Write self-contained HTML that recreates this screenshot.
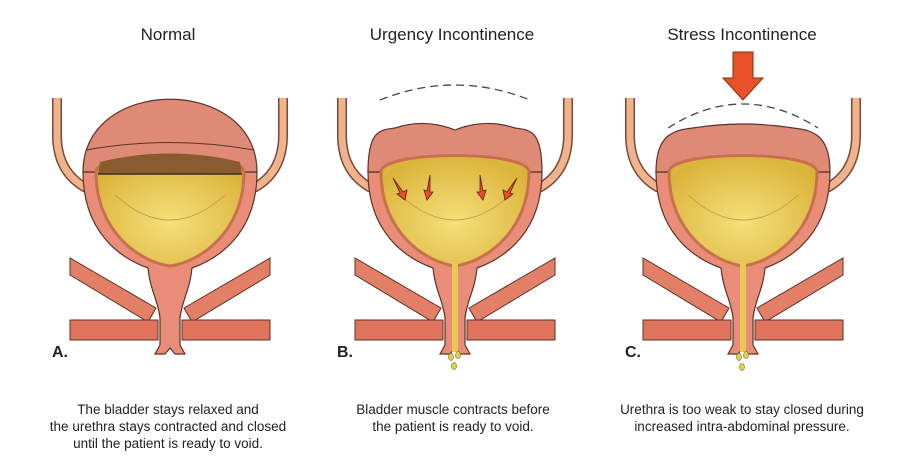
<!DOCTYPE html>
<html><head><style>
body{margin:0;background:#fff;width:905px;height:466px;overflow:hidden}
svg{display:block}
text{font-family:"Liberation Sans",sans-serif;fill:#222}
</style></head><body>
<svg width="905" height="466" viewBox="0 0 905 466">
<defs>
<radialGradient id="y" cx="50%" cy="60%" r="60%"><stop offset="0" stop-color="#f4e07a"/><stop offset="1" stop-color="#dcb43c"/></radialGradient>
<g id="base">
  <path d="M-113,98 L-113,135 Q-113,172 -84,188" fill="none" stroke="#7a4a35" stroke-width="10"/>
  <path d="M-113,98 L-113,135 Q-113,172 -84,188" fill="none" stroke="#efb48e" stroke-width="7"/>
  <path d="M113,98 L113,135 Q113,172 84,188" fill="none" stroke="#7a4a35" stroke-width="10"/>
  <path d="M113,98 L113,135 Q113,172 84,188" fill="none" stroke="#efb48e" stroke-width="7"/>
  <polygon points="-100,258 -100,275 -22,322 -14,308" fill="#e27f66" stroke="#5a3328" stroke-width="1"/>
  <polygon points="100,258 100,275 22,322 14,308" fill="#e27f66" stroke="#5a3328" stroke-width="1"/>
  <rect x="-100" y="320" width="88" height="20" fill="#e0735c" stroke="#5a3328" stroke-width="1"/>
  <rect x="12" y="320" width="88" height="20" fill="#e0735c" stroke="#5a3328" stroke-width="1"/>
  <path d="M-87,172 C-87,232 -50,258 -22,268 C-20,290 -12,300 -10,318 L-10,345 L-15,354 L-5,354 L0,348 L5,354 L15,354 L10,345 L10,318 C12,300 20,290 22,268 C50,258 87,232 87,172 Z" fill="#e98d78" stroke="#5a3328" stroke-width="1.2"/>
</g>
<path id="inner" d="M-74,172 C-74,150 74,150 74,172 C74,232 30,262 0,266 C-30,262 -74,232 -74,172Z"/>
</defs>

<text x="168" y="40" font-size="17" text-anchor="middle">Normal</text>
<text x="452" y="40" font-size="17" text-anchor="middle">Urgency Incontinence</text>
<text x="742" y="40" font-size="17" text-anchor="middle">Stress Incontinence</text>

<!-- A -->
<g transform="translate(170,0)">
  <use href="#base"/>
  <path d="M-87,172 C-87,75 87,75 87,172 Z" fill="#de8a76" stroke="#5a3328" stroke-width="1.2"/>
  <path d="M-84,150 Q0,135 84,150" fill="none" stroke="#5a3328" stroke-width="1"/>
  <use href="#inner" fill="url(#y)" stroke="#c8704e" stroke-width="3"/>
  <path d="M-70,162 Q0,145 70,162 L72,174 L-72,174Z" fill="#8a5a30"/>
  <line x1="-72" y1="174" x2="72" y2="174" stroke="#3a3020" stroke-width="1.5"/>
  <path d="M-55,195 Q0,245 55,195" fill="none" stroke="#b89a40" stroke-width="0.8"/>
  <text x="-118" y="357" font-size="16" font-weight="bold">A.</text>
</g>

<!-- B -->
<g transform="translate(455,0)">
  <use href="#base"/>
  <path d="M-75,100 Q0,70 75,100" fill="none" stroke="#444" stroke-dasharray="8,5" stroke-width="1.3"/>
  <path d="M-87,172 C-87,130 -75,130 -60,128 Q-30,118 0,130 Q30,118 60,128 C75,130 87,130 87,172 Z" fill="#de8a76" stroke="#5a3328" stroke-width="1.2"/>
  <use href="#inner" fill="url(#y)" stroke="#c8704e" stroke-width="3"/>
  <rect x="-3" y="262" width="6" height="90" fill="#e8c850"/>
  <path d="M-55,195 Q0,245 55,195" fill="none" stroke="#b89a40" stroke-width="0.8"/>
  <g fill="#e8502c" stroke="#5a2010" stroke-width="0.8">
    <path d="M-62,178 L-52,192 L-48,190 L-50,200 L-58,194 L-55,193 Z"/>
    <path d="M-25,175 L-25,192 L-22,192 L-28,200 L-31,190 L-28,191 Z"/>
    <path d="M25,175 L25,192 L22,192 L28,200 L31,190 L28,191 Z"/>
    <path d="M62,178 L52,192 L48,190 L50,200 L58,194 L55,193 Z"/>
  </g>
  <g fill="#e0d050" stroke="#807020" stroke-width="0.6">
    <ellipse cx="-4" cy="357" rx="2.5" ry="3.5"/><ellipse cx="3" cy="355" rx="2.5" ry="3.5"/><ellipse cx="-1" cy="366" rx="2.5" ry="3.5"/>
  </g>
  <text x="-118" y="357" font-size="16" font-weight="bold">B.</text>
</g>

<!-- C -->
<g transform="translate(743,0)">
  <use href="#base"/>
  <path d="M-75,128 Q0,80 75,128" fill="none" stroke="#444" stroke-dasharray="8,5" stroke-width="1.3"/>
  <path d="M-87,172 C-87,135 -70,130 -50,128 Q0,120 50,128 C70,130 87,135 87,172 Z" fill="#de8a76" stroke="#5a3328" stroke-width="1.2"/>
  <use href="#inner" fill="url(#y)" stroke="#c8704e" stroke-width="3"/>
  <rect x="-3" y="262" width="6" height="90" fill="#e8c850"/>
  <path d="M-55,195 Q0,245 55,195" fill="none" stroke="#b89a40" stroke-width="0.8"/>
  <path d="M-10,52 L10,52 L10,78 L20,78 L0,100 L-20,78 L-10,78 Z" fill="#e8512a" stroke="#8a2a10" stroke-width="1"/>
  <g fill="#e0d050" stroke="#807020" stroke-width="0.6">
    <ellipse cx="-4" cy="357" rx="2.5" ry="3.5"/><ellipse cx="3" cy="355" rx="2.5" ry="3.5"/><ellipse cx="-1" cy="367" rx="2.5" ry="3.5"/>
  </g>
  <text x="-118" y="357" font-size="16" font-weight="bold">C.</text>
</g>

<g font-size="13.5" text-anchor="middle">
<text x="168" y="414">The bladder stays relaxed and</text>
<text x="168" y="431">the urethra stays contracted and closed</text>
<text x="168" y="448">until the patient is ready to void.</text>
<text x="453" y="414">Bladder muscle contracts before</text>
<text x="453" y="431">the patient is ready to void.</text>
<text x="742" y="414">Urethra is too weak to stay closed during</text>
<text x="742" y="431">increased intra-abdominal pressure.</text>
</g>
</svg>
</body></html>
